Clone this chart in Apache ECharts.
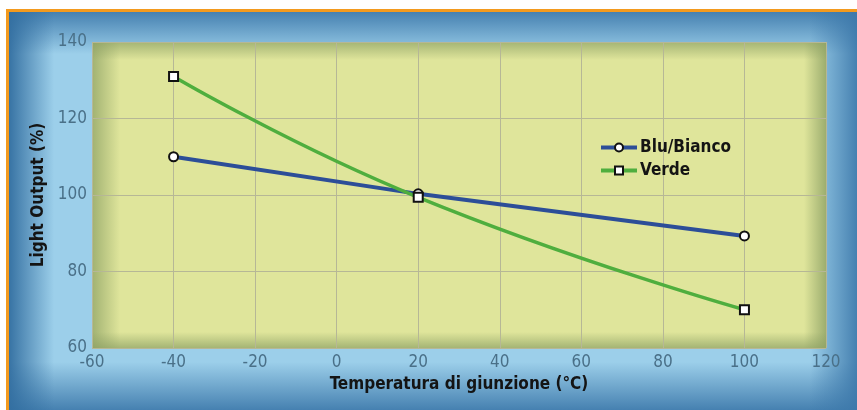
<!DOCTYPE html>
<html>
<head>
<meta charset="utf-8">
<script src="https://cdn.jsdelivr.net/npm/echarts@6/dist/echarts.min.js"></script>
<style>html,body{margin:0;padding:0;background:#fff}#c{width:857px;height:410px}</style>
</head>
<body>
<div id="c"></div>
<script>
const xTicks = [-60, -40, -20, 0, 20, 40, 60, 80, 100, 120];
const yTicks = [60, 80, 100, 120, 140];
const seriesNames = ['Blu/Bianco', 'Verde'];
const bluX = [-40, 20, 100];
const bluY = [110, 100.3, 89.3];
const verdeX = [-40, 20, 100];
const verdeY = [131, 99.4, 70];

const chart = echarts.init(document.getElementById('c'), null, {renderer: 'canvas'});
const W = 857, H = 410;
const G = {l: 92, t: 42, r: 826, b: 348};
const FONT = '"Liberation Sans Narrow", "DejaVu Sans Condensed", "Arial Narrow", sans-serif';

function lg(x0, y0, x1, y1, c0, c1) {
  return new echarts.graphic.LinearGradient(x0, y0, x1, y1, [{offset: 0, color: c0}, {offset: 1, color: c1}]);
}
const bg = [
  {type: 'rect', shape: {x: 6, y: 9, width: W, height: H}, style: {fill: '#f39a1e'}, z: -10, silent: true},
  {type: 'rect', shape: {x: 9, y: 12, width: W, height: H}, style: {fill: '#9ccfea'}, z: -9, silent: true},
  {type: 'rect', shape: {x: 9, y: 12, width: W, height: 42}, style: {fill: lg(0, 0, 0, 1, 'rgba(60,120,170,0.9)', 'rgba(60,120,170,0)')}, z: -8, silent: true},
  {type: 'rect', shape: {x: 9, y: 362, width: W, height: 48}, style: {fill: lg(0, 0, 0, 1, 'rgba(60,120,170,0)', 'rgba(60,120,170,0.9)')}, z: -8, silent: true},
  {type: 'rect', shape: {x: 9, y: 12, width: 45, height: H}, style: {fill: lg(0, 0, 1, 0, 'rgba(50,110,160,0.95)', 'rgba(50,110,160,0)')}, z: -8, silent: true},
  {type: 'rect', shape: {x: 810, y: 12, width: 47, height: H}, style: {fill: lg(0, 0, 1, 0, 'rgba(60,120,170,0)', 'rgba(60,120,170,0.9)')}, z: -8, silent: true},
  {type: 'rect', shape: {x: G.l, y: G.t, width: G.r - G.l, height: G.b - G.t}, style: {fill: '#dfe59b'}, z: -7, silent: true},
  {type: 'rect', shape: {x: G.l, y: G.t, width: 28, height: G.b - G.t}, style: {fill: lg(0, 0, 1, 0, 'rgba(140,160,100,0.75)', 'rgba(140,160,100,0)')}, z: -6, silent: true},
  {type: 'rect', shape: {x: G.r - 22, y: G.t, width: 22, height: G.b - G.t}, style: {fill: lg(0, 0, 1, 0, 'rgba(140,160,100,0)', 'rgba(140,160,100,0.8)')}, z: -6, silent: true},
  {type: 'rect', shape: {x: G.l, y: G.t, width: G.r - G.l, height: 18}, style: {fill: lg(0, 0, 0, 1, 'rgba(140,160,100,0.7)', 'rgba(140,160,100,0)')}, z: -6, silent: true},
  {type: 'rect', shape: {x: G.l, y: G.b - 16, width: G.r - G.l, height: 16}, style: {fill: lg(0, 0, 0, 1, 'rgba(140,160,100,0)', 'rgba(140,160,100,0.7)')}, z: -6, silent: true}
];

chart.setOption({
  animation: false,
  backgroundColor: 'transparent',
  graphic: bg,
  grid: {left: G.l, top: G.t, width: G.r - G.l, height: G.b - G.t, containLabel: false},
  legend: {
    data: seriesNames,
    left: 594, top: 134, orient: 'vertical', itemWidth: 36, itemHeight: 10, itemGap: 6,
    lineStyle: {width: 4},
    textStyle: {fontFamily: FONT, fontWeight: 'bold', fontSize: 17, color: '#141414', padding: [0, 0, 0, -2]}
  },
  xAxis: {
    type: 'value', min: xTicks[0], max: xTicks[xTicks.length - 1], interval: 20,
    name: 'Temperatura di giunzione (°C)', nameLocation: 'middle', nameGap: 28,
    nameTextStyle: {fontFamily: FONT, fontWeight: 'bold', fontSize: 17, color: '#141414'},
    axisLine: {show: false}, axisTick: {show: false},
    axisLabel: {margin: 6, fontFamily: FONT, fontSize: 17, color: '#4a7088'},
    splitLine: {show: true, lineStyle: {color: '#b6b796', width: 1}}
  },
  yAxis: {
    type: 'value', min: yTicks[0], max: yTicks[yTicks.length - 1], interval: 20,
    name: 'Light Output (%)', nameLocation: 'middle', nameGap: 38,
    nameTextStyle: {fontFamily: FONT, fontWeight: 'bold', fontSize: 17, color: '#141414'},
    axisLine: {show: false}, axisTick: {show: false},
    axisLabel: {margin: 5, fontFamily: FONT, fontSize: 17, color: '#4a7088'},
    splitLine: {show: true, lineStyle: {color: '#b6b796', width: 1}}
  },
  series: [
    {
      name: seriesNames[0], type: 'line', data: bluX.map((x, i) => [x, bluY[i]]),
      symbol: 'circle', symbolSize: 9, z: 2,
      lineStyle: {color: '#2c4e98', width: 4},
      itemStyle: {color: '#ffffff', borderColor: '#111', borderWidth: 2}
    },
    {
      name: seriesNames[1], type: 'line', data: verdeX.map((x, i) => [x, verdeY[i]]),
      symbol: 'rect', symbolSize: 9, smooth: 0.5, z: 3,
      lineStyle: {color: '#4fae3e', width: 3.5},
      itemStyle: {color: '#ffffff', borderColor: '#111', borderWidth: 2}
    }
  ]
});
</script>
</body>
</html>
